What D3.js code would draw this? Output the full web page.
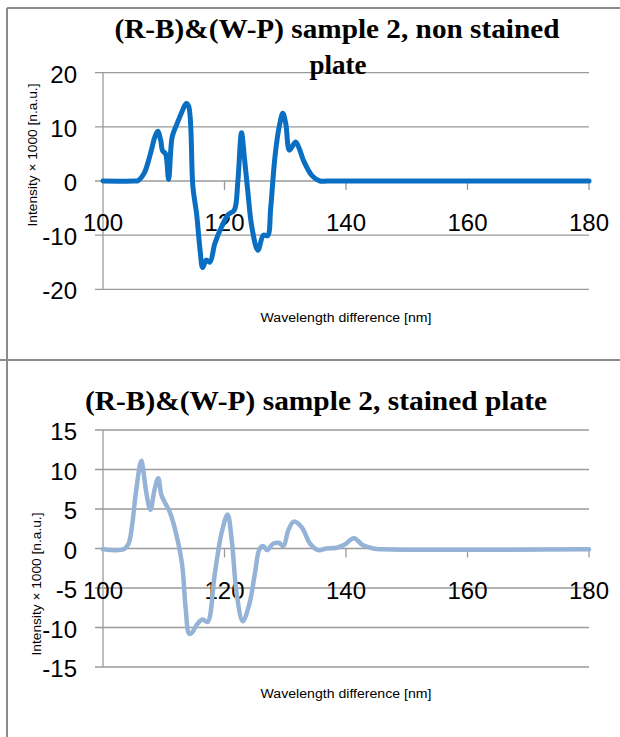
<!DOCTYPE html>
<meta charset="utf-8">
<style>
body { margin: 0; background: #fff; }
.tick-label { font: 24px "Liberation Sans", Arial, sans-serif; fill: #000; }
.axis-title { font: 12px "Liberation Sans", Arial, sans-serif; fill: #000; }
.chart-title { font: bold 27px "Liberation Serif", "Times New Roman", serif; fill: #000; }
.grid { stroke: #9a9a9a; stroke-width: 1.3; }
.frame { stroke: #8c8c8c; stroke-width: 2; }
</style>
<body>
<script src="https://cdn.jsdelivr.net/npm/d3@7"></script>
<script>

// wavelength difference [nm] / intensity x 1000 [n.a.u.]
var wavelengthTicks = [100, 120, 140, 160, 180];

var nonStainedX = [100, 105, 105.8, 106.8, 107.8, 108.5, 109.0, 109.5, 109.8, 110.3, 110.8, 111.4, 112.2, 113.0, 113.7, 114.1, 114.8, 115.4, 116.0, 116.4, 117.0, 117.6, 118.4, 119.5, 120.6, 121.6, 122.2, 122.8, 123.3, 123.8, 124.5, 125.5, 126.4, 127.1, 127.6, 128.3, 129.0, 129.6, 130.1, 130.7, 131.7, 132.3, 133.0, 134.4, 135.7, 137, 180];
var nonStainedY = [0, 0, 0.1, 1.5, 5, 8, 9.2, 7.5, 5.6, 5.0, 0.3, 8.2, 10.6, 12.8, 14.3, 13.8, -1.1, -6.0, -13, -16.0, -14.6, -15.0, -11.6, -8.5, -6.2, -5.4, 0, 8.9, 4, -1.5, -8.5, -12.8, -10.0, -10.1, -5, 4.4, 10, 12.5, 10.5, 5.7, 7.2, 6, 3.8, 1.0, 0, 0, 0];
var nonStainedTicks = [20, 10, 0, -10, -20];

var stainedX = [100, 103.4, 104.2, 104.8, 105.4, 106.3, 106.7, 107.1, 107.8, 108.5, 109.1, 109.6, 110.2, 111.0, 111.9, 113.0, 113.6, 114.2, 114.7, 115.4, 116.4, 117.2, 118.4, 119.5, 120.5, 121.2, 122.0, 123.0, 124.1, 125.0, 125.8, 126.4, 127.0, 128.0, 129.0, 129.7, 130.5, 131.4, 132.7, 134.1, 135.4, 136.8, 138.5, 139.8, 141.3, 142.8, 144.5, 146, 180];
var stainedY = [-0.1, -0.1, 0.6, 3, 7, 11.1, 9.5, 7.2, 4.9, 7.5, 8.9, 6.8, 5.8, 4.6, 2.3, -1.9, -7.5, -10.8, -10.6, -9.7, -9.0, -9.3, -3.2, 1.9, 4.3, 1.0, -5.7, -9.2, -7.0, -3.2, 0, 0.3, -0.2, 0.6, 0.7, 0.3, 2.3, 3.4, 2.7, 0.6, -0.2, 0, 0.1, 0.5, 1.3, 0.4, 0, -0.1, -0.1];
var stainedTicks = [15, 10, 5, 0, -5, -10, -15];

var svg = d3.select("body").append("svg")
    .attr("width", 620)
    .attr("height", 737);

// panel frames
svg.append("line").attr("class", "frame").attr("x1", 7).attr("x2", 7).attr("y1", 8).attr("y2", 737);
svg.append("line").attr("class", "frame").attr("x1", 7).attr("x2", 620).attr("y1", 8).attr("y2", 8);
svg.append("line").attr("class", "frame").attr("x1", 0).attr("x2", 620).attr("y1", 360).attr("y2", 360);

var x = d3.scaleLinear().domain([100, 180]).range([103, 589]);

function panel(opt) {
  var g = svg.append("g");
  var y = d3.scaleLinear().domain(opt.domain).range(opt.range);

  // horizontal gridlines
  g.selectAll(".grid")
    .data(opt.yTicks)
    .enter().append("line")
      .attr("class", "grid")
      .attr("x1", 95).attr("x2", 589)
      .attr("y1", d => y(d)).attr("y2", d => y(d));

  // y axis line
  g.append("line").attr("class", "grid")
    .attr("x1", x(100)).attr("x2", x(100))
    .attr("y1", y(opt.domain[1])).attr("y2", y(opt.domain[0]));

  // x ticks at zero line
  g.selectAll(".xtick")
    .data(wavelengthTicks.slice(1))
    .enter().append("line")
      .attr("class", "grid")
      .attr("x1", d => x(d)).attr("x2", d => x(d))
      .attr("y1", y(0)).attr("y2", y(0) + 9);

  g.selectAll(".ylab")
    .data(opt.yTicks)
    .enter().append("text")
      .attr("class", "tick-label")
      .attr("text-anchor", "end")
      .attr("x", 77)
      .attr("y", d => y(d) + 10)
      .text(d => d < 0 ? "-" + Math.abs(d) : d);

  g.selectAll(".xlab")
    .data(wavelengthTicks)
    .enter().append("text")
      .attr("class", "tick-label")
      .attr("text-anchor", "middle")
      .attr("x", d => x(d))
      .attr("y", y(0) + 50)
      .text(d => d);

  var line = d3.line()
    .x(d => x(d[0]))
    .y(d => y(d[1]))
    .curve(d3.curveCatmullRom.alpha(0.5));

  g.append("path")
    .datum(d3.zip(opt.xs, opt.ys))
    .attr("fill", "none")
    .attr("stroke", opt.color)
    .attr("stroke-width", opt.width)
    .attr("stroke-linejoin", "round")
    .attr("stroke-linecap", "round")
    .attr("d", line);

  opt.title.forEach(function(t) {
    var txt = g.append("text")
      .attr("class", "chart-title")
      .attr("text-anchor", "middle")
      .attr("x", t.x).attr("y", t.y)
      .text(t.text);
    if (t.len) txt.attr("textLength", t.len).attr("lengthAdjust", "spacingAndGlyphs");
  });

  g.append("text")
    .attr("class", "axis-title")
    .attr("text-anchor", "middle")
    .attr("x", 346).attr("y", opt.xTitleY)
    .attr("textLength", 171).attr("lengthAdjust", "spacingAndGlyphs")
    .text("Wavelength difference  [nm]");

  g.append("text")
    .attr("class", "axis-title")
    .attr("text-anchor", "middle")
    .attr("transform", "translate(" + opt.yTitle[0] + "," + opt.yTitle[1] + ") rotate(-90)")
    .attr("textLength", 143).attr("lengthAdjust", "spacingAndGlyphs")
    .text("Intensity \u00d7 1000 [n.a.u.]");
}

panel({
  domain: [-20, 20], range: [289.3, 72.7],
  yTicks: nonStainedTicks,
  xs: nonStainedX, ys: nonStainedY,
  color: "#0a6fc2", width: 5,
  title: [
    {text: "(R-B)&(W-P) sample 2, non stained", x: 337, y: 38, len: 445},
    {text: "plate", x: 338, y: 74}
  ],
  xTitleY: 322,
  yTitle: [37, 155]
});

panel({
  domain: [-15, 15], range: [667, 430],
  yTicks: stainedTicks,
  xs: stainedX, ys: stainedY,
  color: "#95b3d7", width: 4.5,
  title: [
    {text: "(R-B)&(W-P) sample 2, stained plate", x: 316, y: 410, len: 462}
  ],
  xTitleY: 698,
  yTitle: [41, 584]
});

</script>
</body>
</html>
